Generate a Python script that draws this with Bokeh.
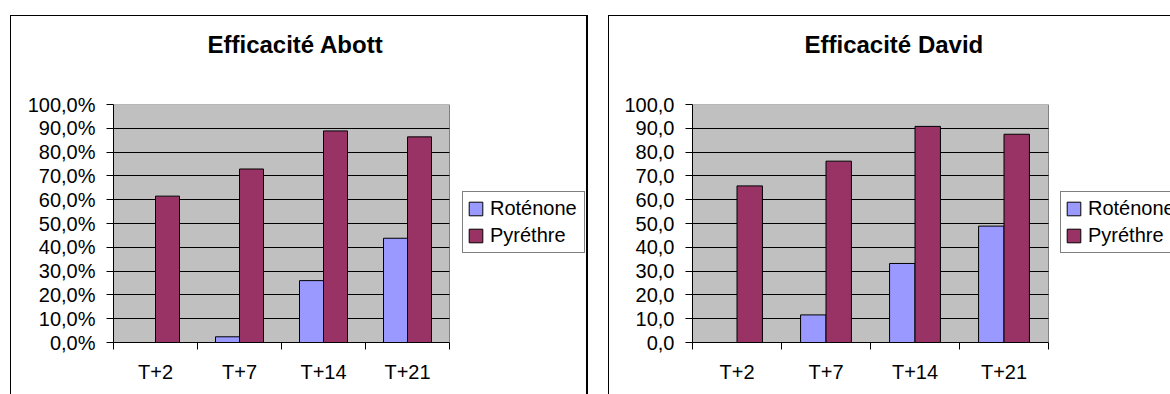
import numpy as np
from bokeh.plotting import figure
from bokeh.layouts import row
from bokeh.models import (FixedTicker, Legend, LegendItem, InlineStyleSheet, Range1d,
                          Title)
from bokeh.embed import file_html
from bokeh.resources import INLINE

# Sampling dates and treatments
periods = ["T+2", "T+7", "T+14", "T+21"]
series_names = ["Roténone", "Pyréthre"]

# Abbott efficacy (%)
abott_rotenone = [0.0, 2.4, 26.0, 43.8]
abott_pyrethre = [61.5, 72.9, 88.9, 86.4]

# David efficacy
david_rotenone = [0.0, 11.6, 33.2, 48.9]
david_pyrethre = [65.8, 76.2, 90.8, 87.5]

y_ticks = [0, 10, 20, 30, 40, 50, 60, 70, 80, 90, 100]
abott_tick_labels = ["0,0%", "10,0%", "20,0%", "30,0%", "40,0%", "50,0%",
                     "60,0%", "70,0%", "80,0%", "90,0%", "100,0%"]
david_tick_labels = ["0,0", "10,0", "20,0", "30,0", "40,0", "50,0",
                     "60,0", "70,0", "80,0", "90,0", "100,0"]

FONT = "Liberation Sans"
ROT_COLOR = "#9999FF"
PYR_COLOR = "#993366"
WALL_COLOR = "#C0C0C0"


def chart_border(left, right, border_right):
    # thin frame around the whole chart area
    css = (":host::after { content: ''; position: absolute; "
           f"left: {left}px; top: 15px; right: {right}px; bottom: 0; "
           "border-top: 1px solid black; border-left: 1px solid black; "
           f"border-right: {border_right}; "
           "pointer-events: none; }")
    return InlineStyleSheet(css=css)


def make_chart(title, rot, pyr, tick_labels, width, border_left, border_right,
               chart_px, title_offset, legend_xy, frame_css):
    n = len(periods)
    centers = np.arange(n)
    bar_w = 1 / 3.5
    x0, x1 = -0.5, n - 0.5
    frame_px = width - border_left - border_right
    # plot area also holds the legend; the category axis spans chart_px of it
    x_end = x0 + (x1 - x0) * frame_px / chart_px

    p = figure(width=width, height=394, x_range=Range1d(x0, x_end),
               y_range=Range1d(y_ticks[0], y_ticks[-1]),
               output_backend="svg", toolbar_location=None,
               min_border_left=border_left, min_border_right=border_right,
               min_border_top=104, min_border_bottom=52,
               background_fill_color="white", border_fill_color="white",
               outline_line_color=None)
    p.stylesheets = [frame_css]

    # spacer between the plot area and the title
    p.add_layout(Title(text=" ", text_font_size="2px", standoff=38), "above")
    p.add_layout(Title(text=title, text_font=FONT, text_font_style="bold",
                       text_font_size="24px", text_color="black",
                       align="left", offset=title_offset, standoff=10), "above")

    # grey wall behind the bars
    p.quad(left=x0, right=x1, bottom=y_ticks[0], top=y_ticks[-1],
           fill_color=WALL_COLOR, line_color="#808080", line_width=1, level="image")

    r_rot = p.vbar(x=centers - bar_w / 2, top=rot, width=bar_w,
                   fill_color=ROT_COLOR, line_color="black", line_width=1)
    r_pyr = p.vbar(x=centers + bar_w / 2, top=pyr, width=bar_w,
                   fill_color=PYR_COLOR, line_color="black", line_width=1)

    # category axis: labels at centres, ticks on boundaries
    xa = p.xaxis[0]
    xa.bounds = (x0, x1)
    xa.ticker = FixedTicker(ticks=list(range(n)),
                            minor_ticks=[i - 0.5 for i in range(n + 1)])
    xa.major_label_overrides = {i: lab for i, lab in enumerate(periods)}
    xa.major_tick_in = 0
    xa.major_tick_out = 0
    xa.minor_tick_in = 0
    xa.minor_tick_out = 7
    xa.minor_tick_line_color = "black"
    xa.axis_line_color = "black"
    xa.major_label_text_font = FONT
    xa.major_label_text_font_size = "20px"
    xa.major_label_text_color = "black"
    xa.major_label_standoff = 11

    ya = p.yaxis[0]
    ya.ticker = FixedTicker(ticks=y_ticks)
    ya.major_label_overrides = {t: lab for t, lab in zip(y_ticks, tick_labels)}
    ya.major_tick_in = 0
    ya.major_tick_out = 7
    ya.major_tick_line_color = "black"
    ya.axis_line_color = "black"
    ya.major_label_text_font = FONT
    ya.major_label_text_font_size = "20px"
    ya.major_label_text_color = "black"
    ya.major_label_standoff = 11

    p.xgrid.visible = False
    grid = p.ygrid[0]
    grid.ticker = FixedTicker(ticks=y_ticks[1:-1])
    grid.grid_line_color = "black"
    grid.grid_line_width = 1
    if "cross_bounds" in grid.properties():
        grid.cross_bounds = (x0, x1)
    else:
        grid.visible = False
        gy = y_ticks[1:-1]
        p.segment(x0=[x0] * len(gy), x1=[x1] * len(gy), y0=gy, y1=gy,
                  line_color="black", line_width=1, level="underlay")

    legend = Legend(items=[LegendItem(label=series_names[0], renderers=[r_rot]),
                           LegendItem(label=series_names[1], renderers=[r_pyr])],
                    location=legend_xy,
                    label_text_font=FONT, label_text_font_size="20px",
                    label_text_color="black",
                    glyph_width=17, glyph_height=17,
                    label_height=25, label_width=90, label_standoff=6,
                    padding=4, spacing=2, margin=0,
                    border_line_color="black", border_line_width=1,
                    background_fill_color="white", background_fill_alpha=1)
    p.add_layout(legend)
    return p


p1 = make_chart("Efficacité Abott", abott_rotenone, abott_pyrethre, abott_tick_labels,
                width=598, border_left=113, border_right=8, chart_px=336,
                title_offset=94, legend_xy=(349, 89),
                frame_css=chart_border(10, 10, "2px solid black"))
p2 = make_chart("Efficacité David", david_rotenone, david_pyrethre, david_tick_labels,
                width=572, border_left=94, border_right=0, chart_px=356,
                title_offset=112, legend_xy=(368, 89),
                frame_css=chart_border(10, 0, "none"))

layout = row(p1, p2)
open("out.html", "w").write(file_html(layout, INLINE))
